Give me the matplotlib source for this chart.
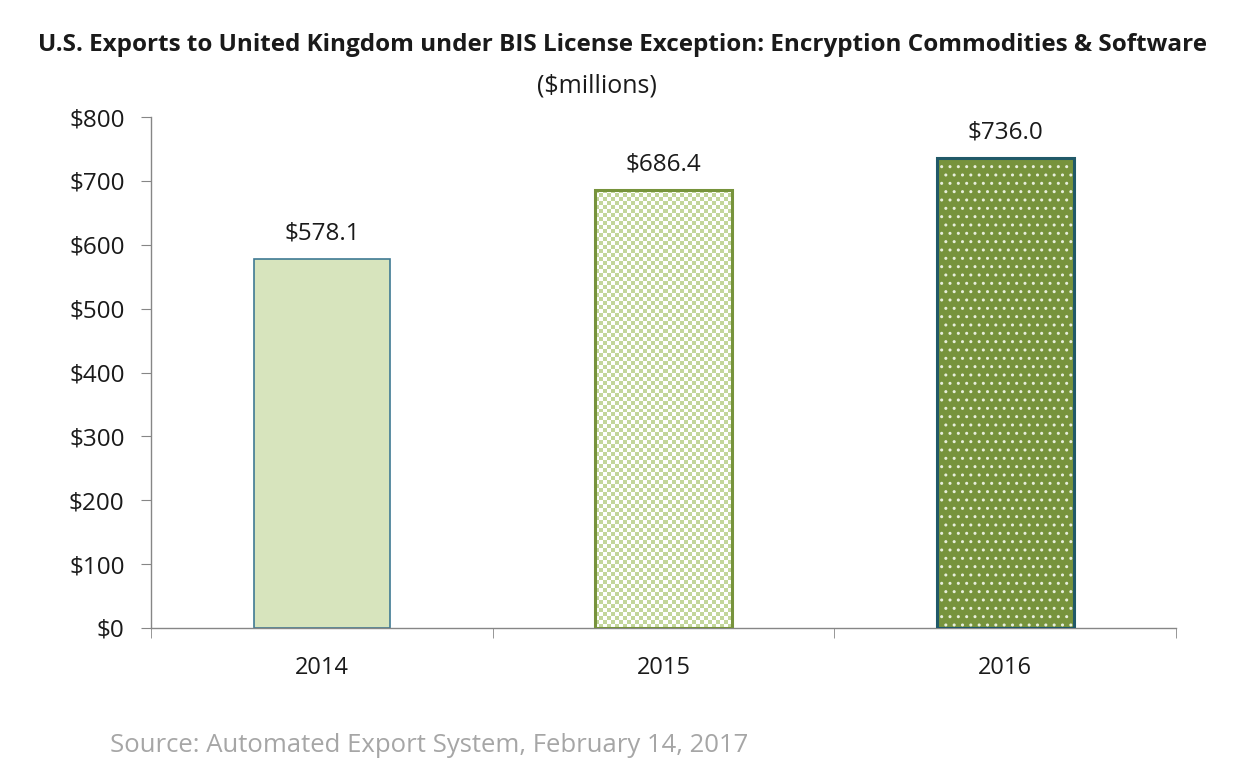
import matplotlib
matplotlib.use("Agg")
import matplotlib.pyplot as plt
import numpy as np
from matplotlib.colors import ListedColormap

years = ["2014", "2015", "2016"]
values = [578.1, 686.4, 736.0]
value_labels = ["$578.1", "$686.4", "$736.0"]
yticks = [0, 100, 200, 300, 400, 500, 600, 700, 800]
title = "U.S. Exports to United Kingdom under BIS License Exception: Encryption Commodities & Software"
subtitle = "($millions)"
source = "Source: Automated Export System, February 14, 2017"

plt.rcParams['font.family'] = ['Open Sans', 'DejaVu Sans']

fig = plt.figure(figsize=(12.36, 7.72), dpi=100)
ax = fig.add_axes([151/1236, 1-628/772, (1176-151)/1236, (628-117)/772])

x = np.arange(len(years))
width = 0.4

# 2014 plain
ax.bar(x[0], values[0], width, color="#d7e4bd", edgecolor="#3f7a94", linewidth=1.2, zorder=2)

# 2015 checker
b1 = ax.bar(x[1], values[1], width, color="white", edgecolor="none", linewidth=0, zorder=2)
rect = b1.patches[0]
ncols = 34
nrows = 110
checker = (np.add.outer(np.arange(nrows), np.arange(ncols)) % 2).astype(float)
cmap = ListedColormap(["white", "#c3d69b"])
im = ax.imshow(checker, cmap=cmap, extent=(x[1]-width/2, x[1]+width/2, 0, values[1]),
               aspect="auto", interpolation="nearest", zorder=2.5, origin="lower")
im.set_clip_path(rect)
ax.bar(x[1], values[1], width, color="none", edgecolor="#77933c", linewidth=2.2, zorder=3)

# 2016 dotted
ax.bar(x[2], values[2], width, color="#77933c", edgecolor="#e8eedc", hatch="..", linewidth=0, zorder=2)
ax.bar(x[2], values[2], width, color="none", edgecolor="#215968", linewidth=2.2, zorder=3)

for xi, v, lab in zip(x, values, value_labels):
    ax.text(xi, v + 21, lab, ha="center", va="bottom", fontsize=17.5, color="#1a1a1a")

ax.set_xlim(-0.5, 2.5)
ax.set_ylim(0, 800)
ax.set_yticks(yticks)
ax.set_yticklabels([f"${t}" for t in yticks], fontsize=17.5, color="#1a1a1a")
ax.set_xticks(x)
ax.set_xticklabels(years, fontsize=17, color="#1a1a1a")
ax.tick_params(axis="x", length=0, pad=20)
ax.set_xticks([-0.5, 0.5, 1.5, 2.5], minor=True)
ax.tick_params(axis="x", which="minor", length=7, color="#868686", direction="out")
ax.tick_params(axis="y", length=7, color="#868686", direction="out", pad=12)

for s in ["top", "right"]:
    ax.spines[s].set_visible(False)
for s in ["left", "bottom"]:
    ax.spines[s].set_color("#868686")
    ax.spines[s].set_linewidth(1.0)

fig.text(622/1236, 1-45/772, title, ha="center", va="center", fontsize=17.5, fontweight="bold", color="#1a1a1a")
fig.text(597/1236, 1-86/772, subtitle, ha="center", va="center", fontsize=18, color="#1a1a1a")
fig.text(110/1236, 1-745/772, source, ha="left", va="center", fontsize=18.5, color="#a6a6a6")

fig.savefig("out.png", dpi=100)
